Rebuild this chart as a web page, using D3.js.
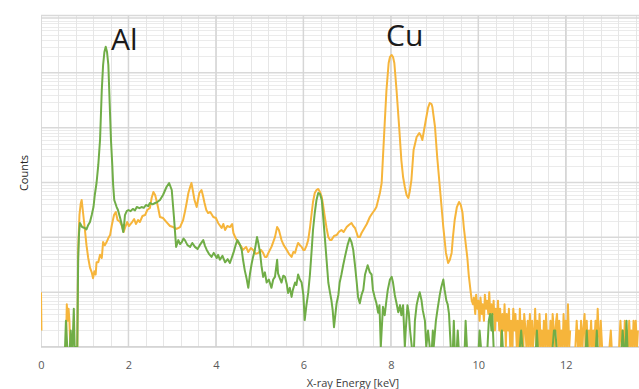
<!DOCTYPE html>
<html>
<head>
<meta charset="utf-8">
<script src="https://cdn.jsdelivr.net/npm/d3@7"></script>
<style>
  html, body { margin: 0; padding: 0; background: #fff; }
  svg { display: block; font-family: "Open Sans", "Liberation Sans", sans-serif; }
</style>
</head>
<body>
<figure id="chart" style="margin:0"></figure>
<script>
// Al sample (green) - energy [keV] and counts, 0 = no counts (gap)
const alKeV = [0.50,0.55,0.57,0.60,0.63,0.66,0.68,0.70,0.72,0.75,0.77,0.80,0.83,0.85,0.87,0.89,0.94,1.00,1.04,1.08,1.12,1.16,1.20,1.23,1.27,1.31,1.35,1.37,1.39,1.42,1.45,1.48,1.51,1.54,1.56,1.58,1.60,1.63,1.65,1.675,1.73,1.76,1.81,1.85,1.88,1.90,1.92,1.96,2.00,2.05,2.10,2.15,2.19,2.25,2.30,2.35,2.40,2.45,2.49,2.55,2.61,2.66,2.72,2.79,2.87,2.93,2.99,3.04,3.09,3.14,3.18,3.22,3.26,3.29,3.35,3.41,3.46,3.52,3.58,3.63,3.67,3.71,3.75,3.79,3.84,3.90,3.95,4.02,4.05,4.09,4.15,4.21,4.27,4.32,4.36,4.40,4.45,4.49,4.54,4.59,4.62,4.66,4.70,4.74,4.78,4.82,4.85,4.89,4.94,4.97,5.01,5.04,5.08,5.12,5.16,5.21,5.27,5.31,5.35,5.40,5.42,5.46,5.50,5.54,5.58,5.62,5.65,5.69,5.73,5.76,5.81,5.84,5.88,5.92,5.96,6.00,6.03,6.07,6.11,6.15,6.19,6.22,6.26,6.30,6.34,6.38,6.42,6.45,6.49,6.53,6.57,6.61,6.64,6.67,6.70,6.73,6.76,6.80,6.83,6.87,6.91,6.95,7.01,7.06,7.10,7.14,7.18,7.22,7.25,7.29,7.33,7.37,7.41,7.47,7.52,7.56,7.59,7.63,7.67,7.71,7.74,7.77,7.79,7.82,7.86,7.90,7.93,7.98,8.02,8.05,8.09,8.13,8.17,8.21,8.24,8.28,8.32,8.34,8.38,8.41,8.44,8.48,8.50,8.53,8.55,8.59,8.63,8.66,8.70,8.73,8.78,8.81,8.85,8.89,8.92,8.94,8.96,8.98,9.03,9.07,9.12,9.15,9.20,9.23,9.27,9.30,9.33,9.37,9.40,9.42,9.44,9.46,9.48,9.51,9.53,9.55,9.58,9.69,9.71,9.74,9.77,10.01,10.03,10.06,10.08,10.21,10.24,10.27,10.30,10.32,10.35,10.37,10.52,10.54,10.56,10.58,10.95,10.98,11.01,11.03,11.32,11.34,11.36,11.38,11.70,11.73,11.76,11.79,11.81,12.46,12.48,12.50,12.52,12.69,12.71,12.73,12.75,13.28,13.30,13.33,13.35,13.37,13.39,13.41,13.43];
const alCounts = [0,1,3,1,0,1,2,1,1,5,1,1,1,40,120,183,154,148,140,168,190,255,357,592,980,2090,5960,17000,48700,139000,240000,300000,240000,139000,48700,17000,5960,2090,900,480,357,315,225,168,125,168,255,300,315,300,330,310,357,340,357,345,389,370,423,400,423,440,480,592,828,980,730,235,67,89,75,82,95,89,72,67,79,67,61,72,80,89,70,59,50,44,52,42,48,39,46,35,40,34,42,52,72,89,76,59,39,25,18,12,22,34,44,59,101,79,52,31,19,23,15,17,12,17,19,39,22,18,15,20,19,14,9.7,12,8.2,11,15,13.5,21,17,15,8.9,3.1,5.8,9.7,21,59,136,278,480,644,617,480,255,101,39,15,9.7,7.2,4.7,2.3,3.8,6.3,8.9,15,21,31,44,72,97,82,59,31,15,8.2,6.3,8.9,11,21,31,23,21,11,8.2,6.3,4.2,5.8,1,2,5.4,3.8,7.2,11,17,19,15,8.9,6.3,4.3,5.8,3.8,5.8,1,2,5.8,4.2,2,1,0,1,3,5.8,8.2,10,7.2,4.7,3,1,2,1,0,1,2,1,3,5,9,12,17,11,7,6,4,1,0,1,3,1,0,1,2,1,0,1,3,1,0,1,2,1,0,1,3,4,2,4,1,0,1,2,1,0,1,2,1,0,1,2,1,0,1,2,2,1,0,1,2,1,0,1,2,1,0,1,2,1,0,1,3,1,0];

// Cu sample (orange)
const cuKeV = [0,0.01,0.02,0.56,0.57,0.59,0.61,0.63,0.65,0.67,0.69,0.82,0.83,0.85,0.88,0.91,0.93,0.96,1.00,1.04,1.08,1.12,1.16,1.19,1.22,1.25,1.27,1.31,1.35,1.39,1.42,1.46,1.50,1.54,1.58,1.62,1.67,1.71,1.75,1.81,1.85,1.89,1.92,1.97,2.01,2.07,2.13,2.17,2.22,2.26,2.32,2.38,2.43,2.49,2.53,2.57,2.61,2.65,2.68,2.72,2.79,2.87,2.95,3.02,3.10,3.18,3.25,3.29,3.33,3.37,3.41,3.44,3.47,3.51,3.56,3.59,3.62,3.67,3.70,3.74,3.78,3.82,3.87,3.94,4.00,4.05,4.13,4.17,4.21,4.26,4.32,4.37,4.40,4.45,4.51,4.57,4.62,4.69,4.74,4.80,4.85,4.91,4.97,5.03,5.08,5.12,5.16,5.21,5.27,5.31,5.35,5.40,5.44,5.50,5.55,5.62,5.67,5.73,5.77,5.81,5.84,5.88,5.92,5.96,6.00,6.03,6.07,6.11,6.15,6.19,6.22,6.26,6.30,6.34,6.38,6.42,6.45,6.49,6.53,6.57,6.61,6.64,6.70,6.76,6.81,6.87,6.92,6.99,7.04,7.10,7.14,7.18,7.22,7.25,7.29,7.33,7.37,7.41,7.45,7.52,7.58,7.63,7.67,7.71,7.75,7.79,7.82,7.86,7.90,7.95,7.98,8.02,8.05,8.08,8.13,8.19,8.24,8.28,8.32,8.36,8.40,8.43,8.47,8.52,8.59,8.65,8.69,8.72,8.76,8.80,8.85,8.89,8.93,8.95,9.01,9.06,9.12,9.16,9.20,9.26,9.31,9.35,9.39,9.42,9.46,9.51,9.56,9.60,9.64,9.67,9.71,9.75,9.78,9.82,9.85,
  9.88,9.90,9.93,9.95,9.98,10.00,10.03,10.05,10.08,10.10,10.13,10.15,10.18,10.20,10.23,10.25,10.28,10.30,10.33,10.35,10.38,10.40,10.43,10.45,10.48,10.50,10.53,10.55,10.58,10.60,10.63,10.65,10.68,10.70,10.73,10.75,10.78,10.80,10.83,10.85,10.88,10.90,10.93,10.95,10.98,11.00,11.03,11.05,11.08,11.10,11.13,11.15,11.18,11.20,11.23,11.25,11.28,11.30,11.33,11.35,11.38,11.40,11.43,11.45,11.48,11.50,11.53,11.55,11.58,11.60,11.63,11.65,11.68,11.70,11.73,11.75,11.78,11.80,11.83,11.85,11.88,11.90,11.93,11.95,11.98,12.00,12.03,12.05,12.08,12.10,12.13,12.20,12.22,12.25,12.28,12.30,12.33,12.35,12.38,12.40,12.43,12.45,12.48,12.50,12.53,12.55,12.58,12.60,12.63,12.65,12.68,12.70,12.73,12.75,12.78,12.80,12.83,12.85,12.97,13.00,13.03,13.05,13.08,13.20,13.22,13.25,13.28,13.30,13.33,13.35,13.38,13.40,13.43,13.45,13.48,13.50,13.53,13.55,13.58,13.60,13.63,13.65];
const cuCounts = [10,2,0,0,1,6,3,5,3,1,0,0,1,60,260,420,480,290,148,72,42,28,23,18,24,21,35,35,48,42,82,72,82,97,110,168,255,290,207,190,161,125,148,190,161,183,216,175,207,190,245,255,315,343,522,671,592,441,343,235,225,190,161,154,142,154,207,290,423,644,828,980,730,480,357,480,644,730,592,423,315,278,290,235,225,183,148,175,136,161,154,175,120,97,79,70,59,67,54,64,59,50,52,59,52,44,44,54,67,82,101,154,136,89,72,59,50,44,54,52,64,79,72,67,59,59,70,89,148,278,441,644,730,762,671,544,389,235,148,101,89,89,106,110,125,136,125,154,168,183,161,148,120,101,101,120,136,154,175,235,278,315,357,480,644,980,2920,12200,48700,151000,195000,212000,195000,151000,48700,10300,2570,1260,828,592,522,671,1110,3920,6760,8000,7050,5960,9070,13800,22900,28200,27000,23800,10300,2920,828,357,154,52,34,39,52,101,207,357,441,389,278,148,79,42,21,11,7,
  6,8,4,9,5,7,3,8,4,6,3,9,5,7,4,10,3,6,4,7,2,5,3,7,2,5,1,4,2,6,1,4,2,5,1,3,1,5,2,4,1,3,1,5,1,3,1,4,2,1,3,1,4,1,3,1,2,5,1,3,1,4,1,2,1,3,1,4,1,2,1,3,1,4,2,1,3,4,1,3,1,2,1,4,1,3,1,6,1,2,0,0,1,3,1,2,1,3,1,2,4,1,3,1,2,1,3,1,2,1,3,1,5,2,1,3,1,0,0,1,2,1,0,0,1,3,1,2,1,3,1,2,1,3,1,2,1,3,1,3,1,2];

const energyTicks = [0, 2, 4, 6, 8, 10, 12];
const peakLabels = ["Al", "Cu"];

const width = 639, height = 389;
const margin = { top: 15, right: 0, bottom: 42, left: 41 };
const plotBottom = height - margin.bottom; // 347
const pxPerKeV = 43.73;

const svg = d3.select("#chart").append("svg")
  .attr("width", width)
  .attr("height", height);

const x = d3.scaleLinear()
  .domain([0, 14])
  .range([margin.left, margin.left + 14 * pxPerKeV]);

// log axis: 1 count at bottom, ~54.8 px per decade
const y = d3.scaleLog()
  .domain([1, Math.pow(10, (plotBottom - margin.top) / 54.83)])
  .range([plotBottom, margin.top]);

const plot = svg.append("g");
plot.append("clipPath").attr("id", "clip")
  .append("rect")
  .attr("x", margin.left).attr("y", margin.top - 1)
  .attr("width", width - margin.left).attr("height", plotBottom - margin.top + 1);

// gridlines
const minorX = d3.range(0, 14.01, 0.4);
const majorX = d3.range(0, 14.01, 2);
const minorY = [];
for (let d = 0; d < 7; d++) for (let k = 2; k < 10; k++) minorY.push(k * Math.pow(10, d));
const majorY = d3.range(0, 7).map(d => Math.pow(10, d));

const grid = plot.append("g").attr("clip-path", "url(#clip)");
grid.selectAll(".minor-y").data(minorY.filter(v => v < y.domain()[1])).join("line")
  .attr("x1", margin.left).attr("x2", width)
  .attr("y1", d => Math.round(y(d)) + 0.5).attr("y2", d => Math.round(y(d)) + 0.5)
  .attr("stroke", "#ebebeb").attr("stroke-width", 1);
grid.selectAll(".minor-x").data(minorX).join("line")
  .attr("y1", margin.top).attr("y2", plotBottom)
  .attr("x1", d => Math.round(x(d)) + 0.5).attr("x2", d => Math.round(x(d)) + 0.5)
  .attr("stroke", "#e6e6e6").attr("stroke-width", 1);
grid.selectAll(".major-y").data(majorY).join("line")
  .attr("x1", margin.left).attr("x2", width)
  .attr("y1", d => y(d)).attr("y2", d => y(d))
  .attr("stroke", "#d9d9d9").attr("stroke-width", 1.5);
grid.selectAll(".major-x").data(majorX).join("line")
  .attr("y1", margin.top).attr("y2", plotBottom)
  .attr("x1", d => x(d)).attr("x2", d => x(d))
  .attr("stroke", "#d6d6d6").attr("stroke-width", 1.5);

// plot frame
plot.append("line")
  .attr("x1", margin.left).attr("x2", width)
  .attr("y1", margin.top + 0.5).attr("y2", margin.top + 0.5)
  .attr("stroke", "#d9d9d9").attr("stroke-width", 1.5);
plot.append("line")
  .attr("x1", margin.left).attr("x2", width)
  .attr("y1", plotBottom).attr("y2", plotBottom)
  .attr("stroke", "#d0d0d0").attr("stroke-width", 1.5);

// spectra
const line = d3.line()
  .defined(d => d[1] > 0)
  .x(d => x(d[0]))
  .y(d => y(d[1]));

const series = [
  { keV: cuKeV, counts: cuCounts, color: "#f6b53b" },
  { keV: alKeV, counts: alCounts, color: "#70ad47" }
];

plot.append("g").attr("clip-path", "url(#clip)")
  .selectAll("path").data(series).join("path")
  .attr("d", s => line(s.keV.map((e, i) => [e, s.counts[i]])))
  .attr("fill", "none")
  .attr("stroke", s => s.color)
  .attr("stroke-width", 2)
  .attr("stroke-linejoin", "round");

// x axis labels
const xAxis = d3.axisBottom(x).tickValues(energyTicks).tickSize(0).tickPadding(14);
svg.append("g")
  .attr("transform", `translate(0,${plotBottom})`)
  .call(xAxis)
  .call(g => g.select(".domain").remove())
  .call(g => g.selectAll("text")
    .attr("fill", "#595959")
    .style("font-size", "11px")
    .style("font-family", "'Open Sans', sans-serif"));

svg.append("text")
  .attr("x", 353).attr("y", 387)
  .attr("text-anchor", "middle")
  .attr("fill", "#404040")
  .style("font-size", "11px")
  .text("X-ray Energy [keV]");

svg.append("text")
  .attr("transform", "translate(28,173) rotate(-90)")
  .attr("text-anchor", "middle")
  .attr("fill", "#262626")
  .style("font-size", "11px")
  .text("Counts");

// peak labels
svg.append("text")
  .attr("x", 111).attr("y", 50)
  .attr("fill", "#1a1a1a")
  .style("font-size", "30px")
  .text(peakLabels[0]);
svg.append("text")
  .attr("x", 386).attr("y", 46)
  .attr("fill", "#1a1a1a")
  .style("font-size", "30px")
  .text(peakLabels[1]);
</script>
</body>
</html>
